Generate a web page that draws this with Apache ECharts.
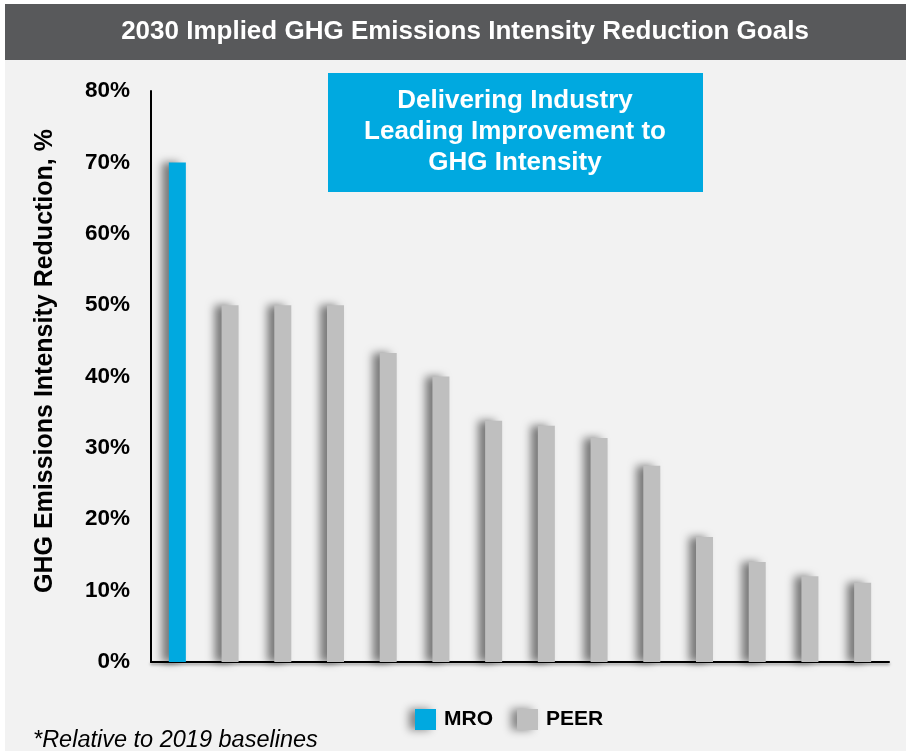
<!DOCTYPE html>
<html>
<head>
<meta charset="utf-8">
<script src="https://cdn.jsdelivr.net/npm/echarts@6/dist/echarts.min.js"></script>
<style>
html,body{margin:0;padding:0;background:#ffffff;}
#chart{width:906px;height:751px;}
</style>
</head>
<body>
<div id="chart"></div>
<script>
const categories = ['MRO','P1','P2','P3','P4','P5','P6','P7','P8','P9','P10','P11','P12','P13'];
const mroValues = [70,'-','-','-','-','-','-','-','-','-','-','-','-','-'];
const peerValues = ['-',50,50,50,43.3,40,33.8,33.1,31.4,27.5,17.5,14,12,11.1];
const yTicks = [0,10,20,30,40,50,60,70,80];

const FONT = '"Liberation Sans", Arial, sans-serif';
const chart = echarts.init(document.getElementById('chart'));
const barShadow = {shadowBlur: 9, shadowColor: 'rgba(0,0,0,0.5)', shadowOffsetX: -7, shadowOffsetY: 0};

chart.setOption({
  animation: false,
  backgroundColor: '#ffffff',
  textStyle: {fontFamily: FONT},
  graphic: [
    {type: 'rect', z: -10, shape: {x: 5, y: 4, width: 901, height: 747}, style: {fill: '#f2f2f2'}},
    {type: 'rect', z: -9, shape: {x: 5, y: 4, width: 901, height: 56}, style: {fill: '#58595b'}},
    {type: 'text', x: 465, y: 32, style: {text: '2030 Implied GHG Emissions Intensity Reduction Goals', fill: '#ffffff', font: 'bold 26px ' + FONT, align: 'center', verticalAlign: 'middle'}},
    {type: 'rect', shape: {x: 328, y: 73, width: 375, height: 119}, style: {fill: '#00a9e0'}},
    {type: 'text', x: 515, y: 132, style: {text: 'Delivering Industry\nLeading Improvement to\nGHG Intensity', fill: '#ffffff', font: 'bold 26px ' + FONT, align: 'center', verticalAlign: 'middle', lineHeight: 31}},
    {type: 'text', x: 45, y: 361, rotation: Math.PI / 2, style: {text: 'GHG Emissions Intensity Reduction, %', fill: '#000000', font: 'bold 25px ' + FONT, align: 'center', verticalAlign: 'middle'}},
    {type: 'text', x: 33, y: 740, style: {text: '*Relative to 2019 baselines', fill: '#000000', font: 'italic 23.5px ' + FONT, align: 'left', verticalAlign: 'middle'}}
  ],
  legend: {
    left: 410, top: 704,
    itemWidth: 21, itemHeight: 21, itemGap: 24,
    icon: 'rect',
    itemStyle: {shadowBlur: 8, shadowColor: 'rgba(0,0,0,0.45)', shadowOffsetX: -6},
    textStyle: {fontFamily: FONT, fontWeight: 'bold', fontSize: 21, color: '#000000', padding: [0,0,0,3]},
    data: ['MRO','PEER']
  },
  grid: {left: 151, right: 17, top: 91, bottom: 89, containLabel: false},
  xAxis: {
    type: 'category', data: categories,
    axisLine: {lineStyle: {color: '#000000', width: 2, shadowBlur: 3, shadowColor: 'rgba(0,0,0,0.4)', shadowOffsetY: 2}},
    axisTick: {show: false}, axisLabel: {show: false}, splitLine: {show: false}
  },
  yAxis: {
    type: 'value', min: yTicks[0], max: yTicks[yTicks.length - 1], interval: 10,
    axisLine: {show: true, lineStyle: {color: '#000000', width: 2}},
    axisTick: {show: false}, splitLine: {show: false},
    axisLabel: {formatter: '{value}%', fontFamily: FONT, fontWeight: 'bold', fontSize: 22.5, color: '#000000', margin: 21}
  },
  series: [
    {name: 'MRO', type: 'bar', stack: 'all', barWidth: 17, data: mroValues,
     itemStyle: Object.assign({color: '#00a9e0'}, barShadow)},
    {name: 'PEER', type: 'bar', stack: 'all', barWidth: 17, data: peerValues,
     itemStyle: Object.assign({color: '#bfbfbf'}, barShadow)}
  ]
});
</script>
</body>
</html>
